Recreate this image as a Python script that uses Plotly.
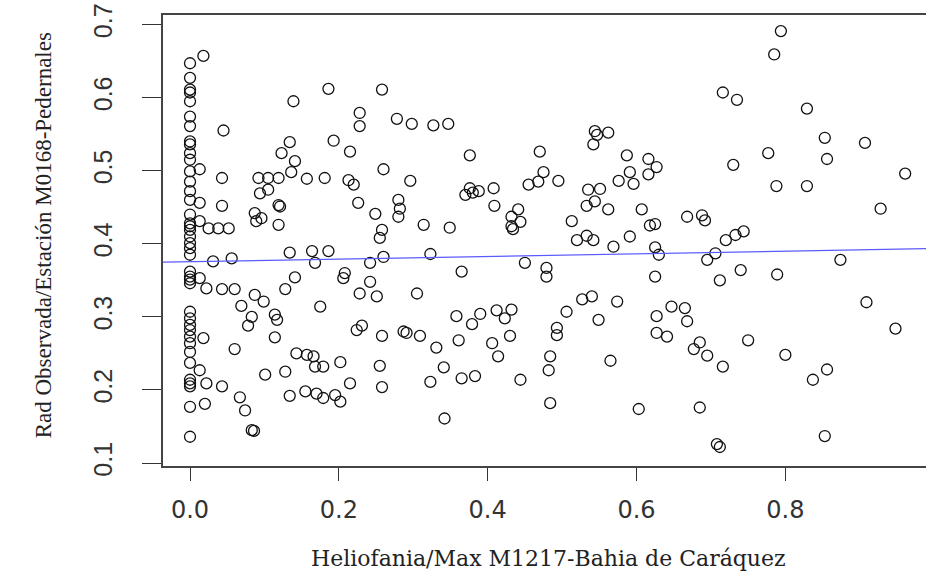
import plotly.graph_objects as go

# ---- data ----
x0_col_y = [0.647, 0.627, 0.611, 0.607, 0.595, 0.574, 0.561, 0.540, 0.536, 0.524,
            0.515, 0.499, 0.485, 0.472, 0.460, 0.440, 0.428, 0.424, 0.419, 0.410,
            0.401, 0.394, 0.385, 0.362, 0.355, 0.351, 0.346, 0.307, 0.298, 0.289,
            0.282, 0.273, 0.264, 0.252, 0.237, 0.214, 0.209, 0.205, 0.177, 0.136]

other_x = [0.018, 0.045, 0.013, 0.043, 0.013, 0.043, 0.013, 0.025, 0.038, 0.052,
           0.092, 0.105, 0.119, 0.094, 0.105, 0.119, 0.121, 0.087, 0.089, 0.096, 0.119,
           0.139, 0.186, 0.134, 0.123, 0.193, 0.215, 0.141, 0.136, 0.157, 0.181, 0.213, 0.220, 0.228, 0.228, 0.226,
           0.031, 0.056, 0.013, 0.022, 0.043, 0.060, 0.018, 0.013, 0.022, 0.043, 0.020, 0.060, 0.067, 0.074, 0.083, 0.086,
           0.069, 0.087, 0.099, 0.083, 0.078, 0.114, 0.117, 0.114, 0.101, 0.128, 0.141, 0.134, 0.164, 0.186, 0.168, 0.175,
           0.143, 0.157, 0.166, 0.168, 0.179, 0.202, 0.128, 0.134, 0.155, 0.170, 0.179, 0.195, 0.202, 0.215, 0.208, 0.206,
           0.228, 0.224,
           0.258, 0.278, 0.298, 0.327, 0.347, 0.260, 0.296, 0.376, 0.470, 0.475, 0.468, 0.455, 0.370, 0.376, 0.380, 0.388,
           0.408, 0.280, 0.282, 0.280, 0.249, 0.258, 0.255, 0.314, 0.349, 0.409, 0.441, 0.432, 0.444, 0.432, 0.434,
           0.323, 0.260, 0.242, 0.242, 0.251, 0.305, 0.365, 0.450, 0.479, 0.479, 0.358, 0.390, 0.379, 0.412, 0.432, 0.423,
           0.231, 0.258, 0.287, 0.291, 0.309, 0.331, 0.361, 0.406, 0.430, 0.414, 0.255, 0.341, 0.484, 0.482, 0.258, 0.323,
           0.365, 0.383, 0.444, 0.342, 0.484,
           0.716, 0.735, 0.544, 0.547, 0.562, 0.542, 0.587, 0.616, 0.627, 0.591, 0.616, 0.495, 0.576, 0.596, 0.535, 0.551,
           0.730, 0.544, 0.533, 0.562, 0.607, 0.513, 0.668, 0.688, 0.692, 0.618, 0.625, 0.520, 0.533, 0.542, 0.591, 0.720,
           0.733, 0.744, 0.569, 0.625,
           0.630, 0.706, 0.695, 0.625, 0.712, 0.740, 0.527, 0.540, 0.574, 0.506, 0.549, 0.647, 0.665, 0.668, 0.627, 0.493,
           0.493, 0.627, 0.641, 0.685, 0.677, 0.695, 0.716, 0.565, 0.603, 0.685, 0.708, 0.712,
           0.794, 0.785, 0.829, 0.853, 0.907, 0.777, 0.856, 0.961, 0.788, 0.829, 0.928,
           0.789, 0.874, 0.909, 0.948, 0.750, 0.800, 0.856, 0.837, 0.853]

other_y = [0.657, 0.555, 0.502, 0.490, 0.456, 0.452, 0.431, 0.421, 0.421, 0.421,
           0.490, 0.490, 0.490, 0.469, 0.474, 0.453, 0.451, 0.442, 0.431, 0.435, 0.426,
           0.595, 0.612, 0.539, 0.524, 0.541, 0.526, 0.513, 0.498, 0.489, 0.490, 0.487, 0.481, 0.579, 0.561, 0.456,
           0.376, 0.380, 0.353, 0.339, 0.338, 0.338, 0.271, 0.227, 0.209, 0.205, 0.181, 0.256, 0.190, 0.172, 0.145, 0.144,
           0.315, 0.330, 0.321, 0.300, 0.288, 0.303, 0.296, 0.272, 0.221, 0.338, 0.354, 0.388, 0.390, 0.390, 0.374, 0.314,
           0.250, 0.248, 0.246, 0.232, 0.232, 0.238, 0.225, 0.192, 0.198, 0.195, 0.189, 0.193, 0.184, 0.209, 0.360, 0.353,
           0.332, 0.282,
           0.611, 0.571, 0.564, 0.562, 0.564, 0.502, 0.486, 0.521, 0.526, 0.498, 0.485, 0.481, 0.467, 0.476, 0.470, 0.472,
           0.476, 0.460, 0.448, 0.437, 0.441, 0.419, 0.408, 0.426, 0.422, 0.452, 0.447, 0.437, 0.430, 0.424, 0.420,
           0.386, 0.382, 0.374, 0.348, 0.328, 0.332, 0.362, 0.374, 0.367, 0.355, 0.301, 0.304, 0.290, 0.309, 0.310, 0.298,
           0.288, 0.274, 0.280, 0.278, 0.274, 0.258, 0.268, 0.264, 0.274, 0.246, 0.233, 0.231, 0.246, 0.227, 0.204, 0.211,
           0.216, 0.219, 0.214, 0.161, 0.182,
           0.607, 0.597, 0.554, 0.549, 0.552, 0.536, 0.521, 0.516, 0.505, 0.498, 0.495, 0.486, 0.486, 0.482, 0.474, 0.475,
           0.508, 0.458, 0.452, 0.447, 0.447, 0.431, 0.437, 0.439, 0.432, 0.425, 0.427, 0.405, 0.411, 0.405, 0.410, 0.405,
           0.412, 0.417, 0.396, 0.395,
           0.385, 0.387, 0.378, 0.355, 0.350, 0.364, 0.324, 0.328, 0.321, 0.307, 0.296, 0.314, 0.312, 0.294, 0.301, 0.285,
           0.275, 0.278, 0.273, 0.265, 0.256, 0.247, 0.232, 0.240, 0.174, 0.176, 0.126, 0.122,
           0.691, 0.659, 0.585, 0.545, 0.538, 0.524, 0.516, 0.496, 0.479, 0.479, 0.448,
           0.358, 0.378, 0.320, 0.284, 0.268, 0.248, 0.228, 0.214, 0.137]

heliofania = [0.0] * len(x0_col_y) + other_x
rad_obs = x0_col_y + other_y

# regression line
fit_intercept = 0.3755
fit_slope = 0.018
fit_x = [-0.04, 1.0]
fit_y = [fit_intercept + fit_slope * v for v in fit_x]

x_ticks = [0.0, 0.2, 0.4, 0.6, 0.8]
x_tick_text = ["0.0", "0.2", "0.4", "0.6", "0.8"]
y_ticks = [0.1, 0.2, 0.3, 0.4, 0.5, 0.6, 0.7]
y_tick_text = ["0.1", "0.2", "0.3", "0.4", "0.5", "0.6", "0.7"]

x_title = "Heliofania/Max M1217-Bahia de Caráquez"
y_title = "Rad Observada/Estación M0168-Pedernales"

fig = go.Figure()
fig.add_trace(go.Scatter(
    x=heliofania, y=rad_obs, mode="markers",
    marker=dict(symbol="circle-open", size=11, color="#111111", line=dict(width=1.3)),
    showlegend=False, hoverinfo="skip"))
fig.add_trace(go.Scatter(
    x=fit_x, y=fit_y, mode="lines",
    line=dict(color="rgb(90,90,255)", width=1.2),
    showlegend=False, hoverinfo="skip"))

fig.update_layout(
    width=926, height=574,
    margin=dict(l=163, r=0, t=15, b=108, autoexpand=False),
    paper_bgcolor="white", plot_bgcolor="white",
    xaxis=dict(range=[-0.0363, 0.989], showgrid=False, zeroline=False,
               showline=True, linecolor="#444444", linewidth=1.5, mirror=True,
               ticks="outside", ticklen=13, tickcolor="#333333", tickwidth=1.2,
               tickvals=x_ticks, ticktext=x_tick_text,
               tickfont=dict(family="DejaVu Sans", size=24, color="#333333"),
               ticklabelstandoff=8),
    yaxis=dict(range=[0.096, 0.713], showgrid=False, zeroline=False,
               showline=True, linecolor="#444444", linewidth=1.5, mirror=False,
               ticks="outside", ticklen=19, tickcolor="#333333", tickwidth=1.2,
               tickvals=y_ticks, ticktext=y_tick_text, tickangle=-90,
               tickfont=dict(family="Liberation Sans Narrow, Liberation Sans", size=25, color="#333333"),
               ticklabelstandoff=20),
    annotations=[
        dict(text=x_title, xref="paper", yref="paper", x=0.505, y=-0.205,
             xanchor="center", yanchor="middle", showarrow=False,
             font=dict(family="DejaVu Serif", size=22, color="#222222")),
        dict(text=y_title, xref="paper", yref="paper", x=-0.157, y=0.512,
             xanchor="center", yanchor="middle", showarrow=False, textangle=-90,
             font=dict(family="Liberation Serif", size=23, color="#222222")),
    ],
)

fig.write_html("out.html")
